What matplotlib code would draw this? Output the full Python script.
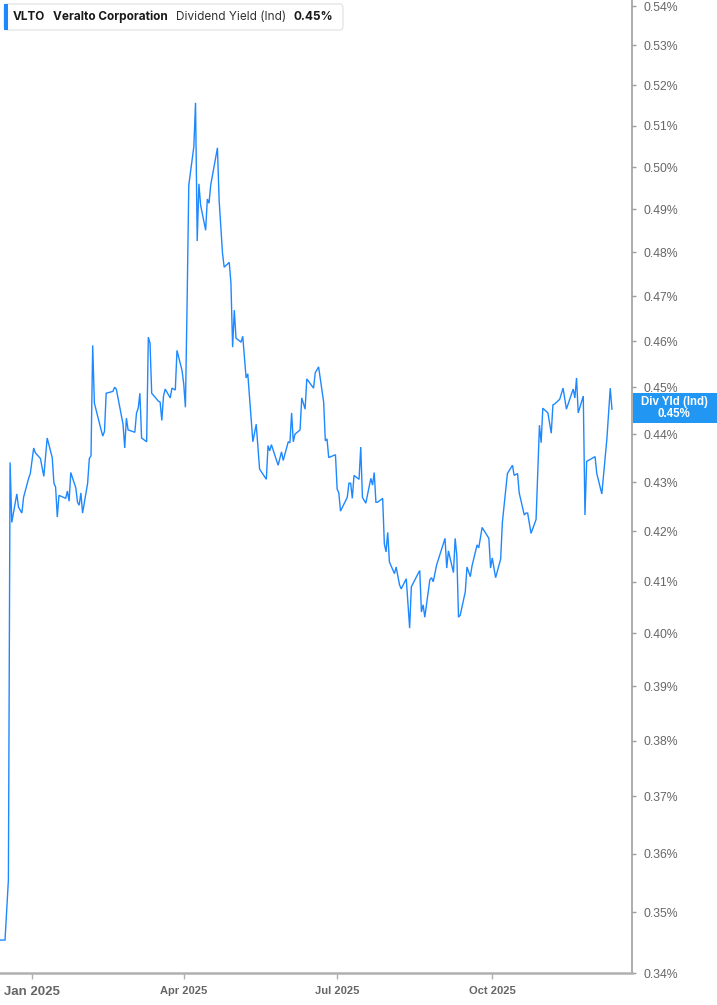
import matplotlib
matplotlib.use("Agg")
import matplotlib.pyplot as plt
import matplotlib.dates as mdates
from matplotlib.ticker import FixedLocator, NullLocator
from matplotlib.patches import FancyBboxPatch, Rectangle
import pandas as pd

# ---------------- data ----------------
dates = [
    "2024-12-13", "2024-12-16", "2024-12-18", "2024-12-19", "2024-12-20", "2024-12-23", "2024-12-24",
    "2024-12-26", "2024-12-27", "2024-12-30", "2024-12-31",
    "2025-01-02", "2025-01-03", "2025-01-06", "2025-01-08", "2025-01-10", "2025-01-13", "2025-01-14",
    "2025-01-15", "2025-01-16", "2025-01-17", "2025-01-21", "2025-01-22", "2025-01-23", "2025-01-24",
    "2025-01-27", "2025-01-28", "2025-01-29", "2025-01-30", "2025-01-31",
    "2025-02-03", "2025-02-04", "2025-02-05", "2025-02-06", "2025-02-07", "2025-02-10", "2025-02-11",
    "2025-02-12", "2025-02-13", "2025-02-14", "2025-02-18", "2025-02-19", "2025-02-20", "2025-02-24",
    "2025-02-25", "2025-02-26", "2025-02-27",
    "2025-03-03", "2025-03-04", "2025-03-05", "2025-03-06", "2025-03-07", "2025-03-10", "2025-03-11",
    "2025-03-12", "2025-03-13", "2025-03-17", "2025-03-18", "2025-03-19", "2025-03-20", "2025-03-21",
    "2025-03-24", "2025-03-25", "2025-03-27", "2025-03-28", "2025-03-31",
    "2025-04-01", "2025-04-02", "2025-04-03", "2025-04-04", "2025-04-07", "2025-04-08", "2025-04-09",
    "2025-04-10", "2025-04-11", "2025-04-14", "2025-04-15", "2025-04-16", "2025-04-17", "2025-04-21",
    "2025-04-22", "2025-04-24", "2025-04-25", "2025-04-28", "2025-04-29", "2025-04-30",
    "2025-05-01", "2025-05-02", "2025-05-05", "2025-05-06", "2025-05-08", "2025-05-09", "2025-05-12",
    "2025-05-14", "2025-05-16", "2025-05-20", "2025-05-21", "2025-05-22", "2025-05-23", "2025-05-27",
    "2025-05-29", "2025-05-30",
    "2025-06-02", "2025-06-03", "2025-06-04", "2025-06-05", "2025-06-06", "2025-06-09", "2025-06-10",
    "2025-06-12", "2025-06-13", "2025-06-17", "2025-06-18", "2025-06-20", "2025-06-23", "2025-06-24",
    "2025-06-25", "2025-06-26", "2025-06-30",
    "2025-07-01", "2025-07-02", "2025-07-03", "2025-07-07", "2025-07-08", "2025-07-09", "2025-07-10",
    "2025-07-11", "2025-07-14", "2025-07-15", "2025-07-16", "2025-07-18", "2025-07-21", "2025-07-22",
    "2025-07-23", "2025-07-24", "2025-07-25", "2025-07-28", "2025-07-29", "2025-07-30", "2025-07-31",
    "2025-08-01", "2025-08-04", "2025-08-05", "2025-08-07", "2025-08-08", "2025-08-11", "2025-08-13",
    "2025-08-14", "2025-08-18", "2025-08-19", "2025-08-20", "2025-08-21", "2025-08-22", "2025-08-25",
    "2025-08-26", "2025-08-27", "2025-08-29",
    "2025-09-03", "2025-09-04", "2025-09-05", "2025-09-08", "2025-09-09", "2025-09-10", "2025-09-11",
    "2025-09-12", "2025-09-15", "2025-09-16", "2025-09-18", "2025-09-19", "2025-09-22", "2025-09-23",
    "2025-09-25", "2025-09-29", "2025-09-30",
    "2025-10-01", "2025-10-03", "2025-10-06", "2025-10-07", "2025-10-10", "2025-10-13", "2025-10-14",
    "2025-10-16", "2025-10-17", "2025-10-20", "2025-10-21", "2025-10-22", "2025-10-24", "2025-10-27",
    "2025-10-29", "2025-10-30", "2025-10-31",
    "2025-11-03", "2025-11-05", "2025-11-06", "2025-11-07", "2025-11-10", "2025-11-12", "2025-11-14",
    "2025-11-18", "2025-11-19", "2025-11-20", "2025-11-21", "2025-11-24", "2025-11-25", "2025-11-26",
    "2025-11-28",
    "2025-12-01", "2025-12-02", "2025-12-05", "2025-12-08", "2025-12-10", "2025-12-11",
]

yield_pct = [
    0.3454, 0.3454, 0.3555, 0.4341, 0.4218, 0.4276, 0.4249,
    0.4237, 0.4269, 0.4308, 0.4318,
    0.4371, 0.4361, 0.4349, 0.4312, 0.4392, 0.4351, 0.4298,
    0.4290, 0.4229, 0.4273, 0.4267, 0.4282, 0.4261, 0.4320,
    0.4288, 0.4259, 0.4253, 0.4278, 0.4237,
    0.4298, 0.4349, 0.4355, 0.4591, 0.4466, 0.4423, 0.4409,
    0.4396, 0.4406, 0.4487, 0.4491, 0.4500, 0.4496, 0.4421,
    0.4371, 0.4434, 0.4409,
    0.4404, 0.4445, 0.4455, 0.4487, 0.4392, 0.4384, 0.4609,
    0.4596, 0.4487, 0.4470, 0.4468, 0.4429, 0.4481, 0.4496,
    0.4477, 0.4498, 0.4494, 0.4580, 0.4536,
    0.4507, 0.4457, 0.4684, 0.4957, 0.5049, 0.5156, 0.4826,
    0.4960, 0.4910, 0.4851, 0.4924, 0.4914, 0.4957, 0.5046,
    0.4921, 0.4798, 0.4766, 0.4777, 0.4730, 0.4587,
    0.4669, 0.4607, 0.4598, 0.4611, 0.4520, 0.4529, 0.4384,
    0.4421, 0.4327, 0.4306, 0.4376, 0.4365, 0.4378, 0.4335,
    0.4363, 0.4345,
    0.4384, 0.4382, 0.4445, 0.4384, 0.4400, 0.4409, 0.4477,
    0.4453, 0.4518, 0.4498, 0.4531, 0.4544, 0.4468, 0.4386,
    0.4390, 0.4351, 0.4357,
    0.4286, 0.4278, 0.4241, 0.4269, 0.4298, 0.4298, 0.4267,
    0.4314, 0.4306, 0.4373, 0.4269, 0.4257, 0.4308, 0.4294,
    0.4320, 0.4259, 0.4259, 0.4267, 0.4175, 0.4159, 0.4198,
    0.4139, 0.4116, 0.4129, 0.4094, 0.4086, 0.4106, 0.4010,
    0.4090, 0.4116, 0.4122, 0.4041, 0.4055, 0.4031, 0.4104,
    0.4108, 0.4100, 0.4133,
    0.4186, 0.4127, 0.4161, 0.4118, 0.4186, 0.4151, 0.4031,
    0.4035, 0.4080, 0.4129, 0.4110, 0.4131, 0.4173, 0.4167,
    0.4208, 0.4186, 0.4127,
    0.4147, 0.4108, 0.4145, 0.4218, 0.4318, 0.4335, 0.4314,
    0.4318, 0.4278, 0.4233, 0.4237, 0.4237, 0.4196, 0.4224,
    0.4419, 0.4382, 0.4455,
    0.4445, 0.4402, 0.4462, 0.4464, 0.4474, 0.4498, 0.4453,
    0.4496, 0.4477, 0.4520, 0.4445, 0.4481, 0.4233, 0.4343,
    0.4347,
    0.4353, 0.4318, 0.4276, 0.4390, 0.4498, 0.4453,
]

y_ticks = [0.34, 0.35, 0.36, 0.37, 0.38, 0.39, 0.40, 0.41, 0.42, 0.43, 0.44,
           0.45, 0.46, 0.47, 0.48, 0.49, 0.50, 0.51, 0.52, 0.53, 0.54]
y_tick_labels = ["0.34%", "0.35%", "0.36%", "0.37%", "0.38%", "0.39%", "0.40%", "0.41%",
                 "0.42%", "0.43%", "0.44%", "0.45%", "0.46%", "0.47%", "0.48%", "0.49%",
                 "0.50%", "0.51%", "0.52%", "0.53%", "0.54%"]
x_tick_dates = ["2025-01-01", "2025-04-01", "2025-07-01", "2025-10-01"]
x_tick_labels = ["Jan 2025", "Apr 2025", "Jul 2025", "Oct 2025"]

ticker_sym = "VLTO"
company = "Veralto Corporation"
metric = "Dividend Yield (Ind)"
last_value_label = "0.45%"
tag_title = "Div Yld (Ind)"

# ---------------- style ----------------
LINE = "#1e88ff"
TAG = "#2196f3"
AXC = "#9e9e9e"
TXT = "#666666"
W, H = 717, 1005

plt.rcParams["font.family"] = ["Liberation Sans", "DejaVu Sans"]

fig = plt.figure(figsize=(W / 100, H / 100), dpi=100)
ax = fig.add_axes([0, 32 / H, 632 / W, 973 / H])

x = pd.to_datetime(dates)
ax.plot(x, yield_pct, color=LINE, lw=1.0, solid_joinstyle="miter")

ax.set_yscale("log")
ax.set_ylim(0.34, 0.5416)
ax.yaxis.set_major_locator(FixedLocator(y_ticks))
ax.yaxis.set_minor_locator(NullLocator())
ax.yaxis.tick_right()
ax.set_yticklabels(y_tick_labels)

jan1 = mdates.date2num(pd.Timestamp("2025-01-01"))
ax.set_xlim(jan1 - 18.98, jan1 + 355.9)
ax.set_xticks(mdates.date2num(pd.to_datetime(x_tick_dates)))
ax.set_xticklabels(x_tick_labels)
ax.xaxis.set_minor_locator(NullLocator())

for s in ["top", "left"]:
    ax.spines[s].set_visible(False)
ax.spines["right"].set_color(AXC)
ax.spines["right"].set_linewidth(1.2)
ax.spines["bottom"].set_color("#b0b0b0")
ax.spines["bottom"].set_linewidth(1.8)

ax.tick_params(axis="y", which="major", direction="out", length=3, width=1,
               color=AXC, labelcolor=TXT, labelsize=8.8, pad=5)
ax.tick_params(axis="x", which="major", direction="out", length=4, width=1,
               color="#b0b0b0", labelcolor=TXT, labelsize=8.5, pad=5)
for lbl in ax.get_xticklabels():
    lbl.set_fontweight("bold")
    if lbl.get_text().startswith("Jan"):
        lbl.set_fontsize(9.5)
    else:
        lbl.set_fontsize(8.0)
ax.set_facecolor("white")

# title box
fig.patches.append(FancyBboxPatch((4 / W, 1 - 30 / H), 339 / W, 26 / H,
                                  boxstyle="round,pad=0,rounding_size=0.004",
                                  transform=fig.transFigure, facecolor="white",
                                  edgecolor="#e6e6e6", lw=1.0))
fig.patches.append(Rectangle((4 / W, 1 - 30 / H), 3.5 / W, 26 / H,
                             transform=fig.transFigure, facecolor=LINE, edgecolor="none"))
ty = 1 - 17 / H
tfont = ["Inter", "DejaVu Sans"]
fs = 8.5
fig.text(13 / W, ty, ticker_sym, fontsize=fs, fontweight="bold", color="#1a1a1a",
         va="center", ha="left", family=tfont)
fig.text(53 / W, ty, company, fontsize=fs, fontweight="bold", color="#1a1a1a",
         va="center", ha="left", family=tfont)
fig.text(176 / W, ty, metric, fontsize=fs, color="#333333",
         va="center", ha="left", family=tfont)
fig.text(293 / W, ty, last_value_label, fontsize=fs, fontweight="bold", color="#1a1a1a",
         va="center", ha="left", family=tfont)

# right tag
fig.patches.append(Rectangle((633 / W, 1 - 423 / H), 84 / W, 30 / H,
                             transform=fig.transFigure, facecolor=TAG, edgecolor="none"))
fig.text(674 / W, 1 - 401.5 / H, tag_title, fontsize=8.3, fontweight="bold", color="white",
         ha="center", va="center")
fig.text(674 / W, 1 - 414 / H, last_value_label, fontsize=8.3, fontweight="bold", color="white",
         ha="center", va="center")

fig.savefig("out.png", dpi=100, facecolor="white")
